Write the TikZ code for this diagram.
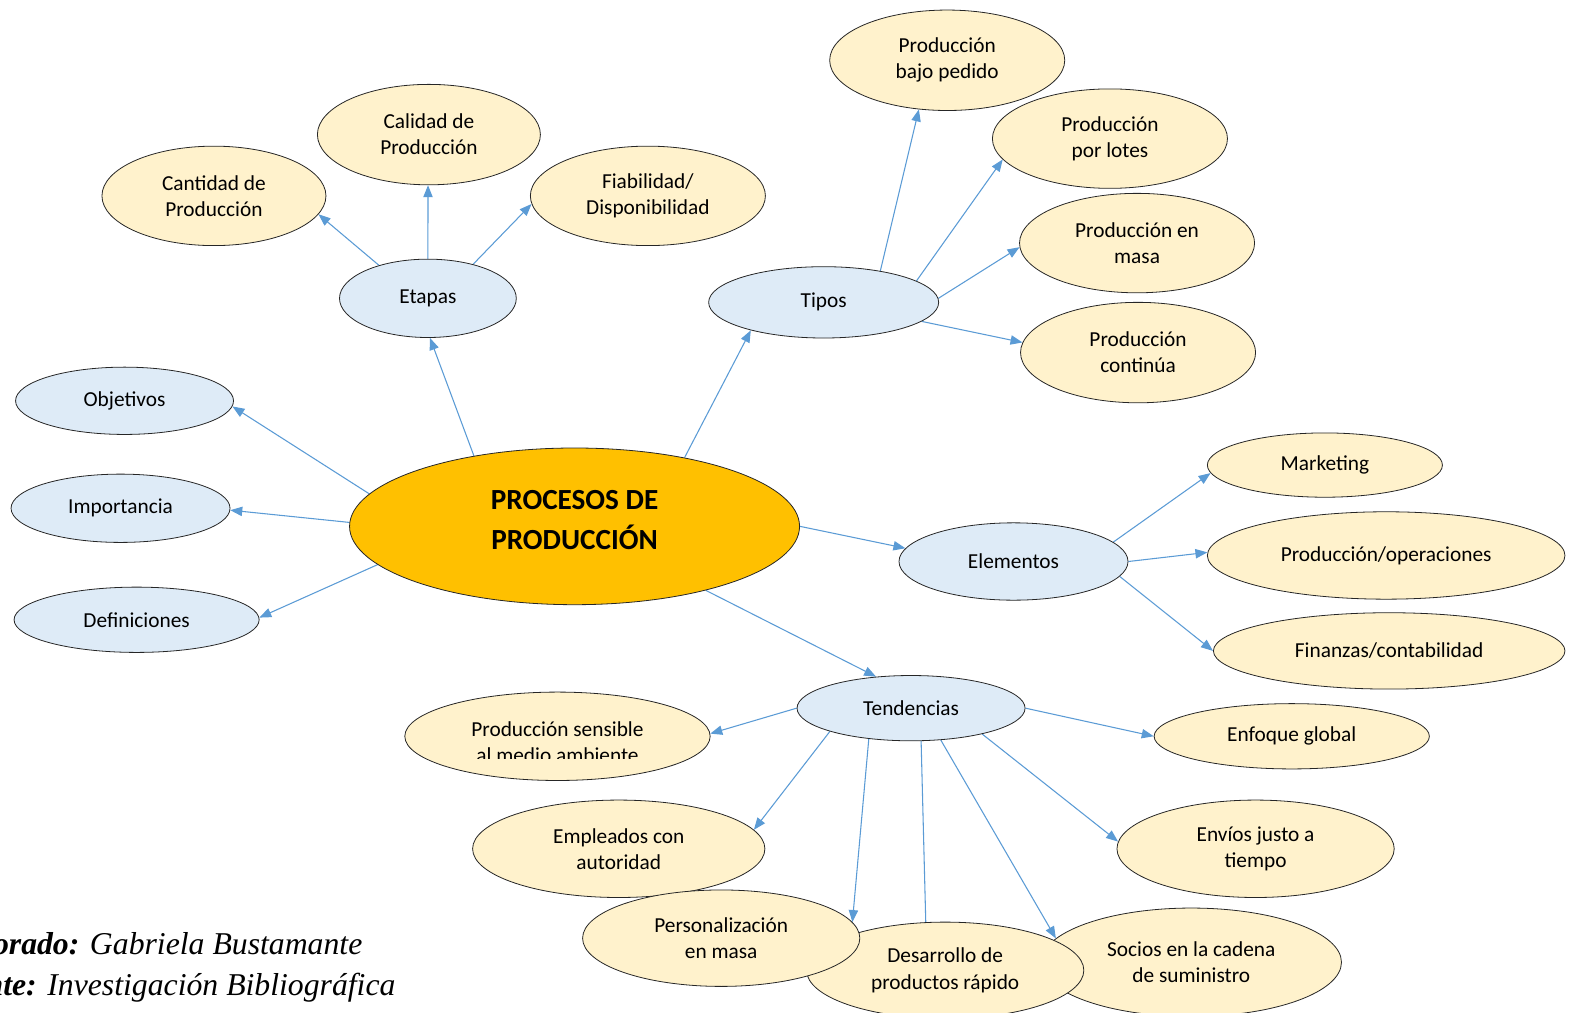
\documentclass[tikz,border=0pt]{standalone}
\usepackage{fontspec}
\setmainfont{Carlito}
\newfontfamily\notefont{Liberation Serif}
\usetikzlibrary{arrows.meta,shapes.geometric}
\definecolor{linkblue}{HTML}{5B9BD5}
\definecolor{bluefill}{HTML}{DEEBF7}
\definecolor{creamfill}{HTML}{FFF2CC}
\definecolor{goldfill}{HTML}{FFC000}
\pgfdeclarelayer{bg}
\pgfsetlayers{bg,main}

\begin{document}
\begin{tikzpicture}[x=0.75335pt,y=-0.75335pt,
  bubble/.style={ellipse, draw=black!85, line width=0.6pt, inner sep=0pt,
    align=center, font=\fontsize{16}{19.6}\selectfont},
  topic/.style={bubble, fill=bluefill},
  leaf/.style={bubble, fill=creamfill},
  sz/.style 2 args={minimum width={#1*0.75335pt}, minimum height={#2*0.75335pt}},
  link/.style={draw=linkblue, line width=0.8pt, -{Triangle[length=9pt,width=7pt]}},
  plain/.style={inner sep=0pt, font=\fontsize{16}{19.6}\selectfont}
]
\useasboundingbox (0,0) rectangle (1568,1008);

% central topic
\node[bubble, fill=goldfill, sz={448}{156}] (core) at (572,524) {};
\node[plain, align=center, font=\bfseries\fontsize{21.9}{30}\selectfont]
      (coretitle) at (572,518) {PROCESOS DE\\PRODUCCIÓN};

% first level
\node[topic, sz={176}{78}] (etapas) at (426,297) {Etapas};
\node[topic, sz={229}{71}] (tipos) at (820,301) {Tipos};
\node[topic, sz={217}{67}] (objetivos) at (124,399) {Objetivos};
\node[topic, sz={218}{68}] (importancia) at (120,506) {Importancia};
\node[topic, sz={244}{65}] (definiciones) at (136,617) {Definiciones};
\node[topic, sz={228}{77}] (elementos) at (1009,559) {Elementos};
\node[topic, sz={227}{65}] (tendencias) at (907,705) {Tendencias};

% stages
\node[leaf, sz={223}{99}] (cantidad) at (213,195) {Cantidad de\\Producción};
\node[leaf, sz={222}{100}] (calidad) at (427,134) {Calidad de\\Producción};
\node[leaf, sz={234}{99}] (fiabilidad) at (645,195) {Fiabilidad/\\Disponibilidad};

% types
\node[leaf, sz={234}{100}] (pedido) at (943,60) {Producción\\bajo pedido};
\node[leaf, sz={234}{99}] (lotes) at (1105,138) {Producción\\por lotes};
\node[leaf, sz={234}{99}] (masa) at (1132,242) {Producción en\\masa};
\node[leaf, sz={234}{100}] (continua) at (1133,351) {Producción\\continúa};

% elements
\node[leaf, sz={234}{64}] (marketing) at (1319,463) {Marketing};
\node[leaf, sz={356}{87}] (operaciones) at (1380,553) {Producción/operaciones};
\node[leaf, sz={350}{76}] (finanzas) at (1383,648) {Finanzas/contabilidad};

% trends
\node[leaf, sz={304}{88}] (sensible) at (555,733) {};
\node[plain, anchor=base] (sensiblehead) at (555,733) {Producción sensible};
\begin{scope}
  \clip (403,689) rectangle (707,755);
  \node[plain, anchor=base] (sensibletail) at (555,759) {al medio ambiente};
\end{scope}
\node[leaf, sz={274}{65}] (global) at (1286,733) {Enfoque global};
\node[leaf, sz={291}{97}] (empleados) at (616,845) {Empleados con\\autoridad};
\node[leaf, sz={276}{97}] (envios) at (1250,845) {Envíos justo a\\tiempo};
\node[leaf, sz={299}{108}] (socios) at (1186,958) {Socios en la cadena\\de suministro};
\node[leaf, sz={276}{96}] (desarrollo) at (941,966) {Desarrollo de\\productos rápido};
\node[leaf, sz={276}{96}] (personal) at (718,934) {Personalización\\en masa};

% connectors, kept beneath the bubbles
\begin{pgfonlayer}{bg}
\draw[link] (core.145) -- (etapas.-87);
\draw[link] (core.32) -- (tipos.201);
\draw[link] (core.171) -- (objetivos.-3);
\draw[link] (core.179) -- (importancia.-1);
\draw[link] (core.191) -- (definiciones.1);
\draw[link] (core.0) -- (elementos.173);
\draw[link] (core.-26) -- (tendencias.138);
\draw[link] (etapas.146) -- (cantidad.-10);
\draw[link] (etapas.90) -- (calidad.-91);
\draw[link] (etapas.37) -- (fiabilidad.184);
\draw[link] (tipos.29) -- (pedido.240);
\draw[link] (tipos.13) -- (lotes.191);
\draw[link] (tipos.2) -- (masa.182);
\draw[link] (tipos.-11) -- (continua.175);
\draw[link] (elementos.11) -- (marketing.184);
\draw[link] (elementos.0) -- (operaciones.179);
\draw[link] (elementos.-8) -- (finanzas.180);
\draw[link] (tendencias.180) -- (sensible.1);
\draw[link] (tendencias.0) -- (global.180);
\draw[link] (tendencias.196) -- (empleados.8);
\draw[link] (tendencias.216) -- (personal.7);
\draw[link, shorten >=-16pt] (tendencias.287) -- (desarrollo.112);
\draw[link] (tendencias.313) -- (socios.170);
\draw[link] (tendencias.-20) -- (envios.177);
\end{pgfonlayer}

% credits
\node[inner sep=0pt, anchor=base east, font=\notefont\itshape\fontsize{23.8}{30}\selectfont]
  (author) at (361,950) {\textbf{Elaborado:} Gabriela Bustamante};
\node[inner sep=0pt, anchor=base east, font=\notefont\itshape\fontsize{23.8}{30}\selectfont]
  (source) at (394,991) {\textbf{Fuente:} Investigación Bibliográfica};
\end{tikzpicture}
\end{document}
